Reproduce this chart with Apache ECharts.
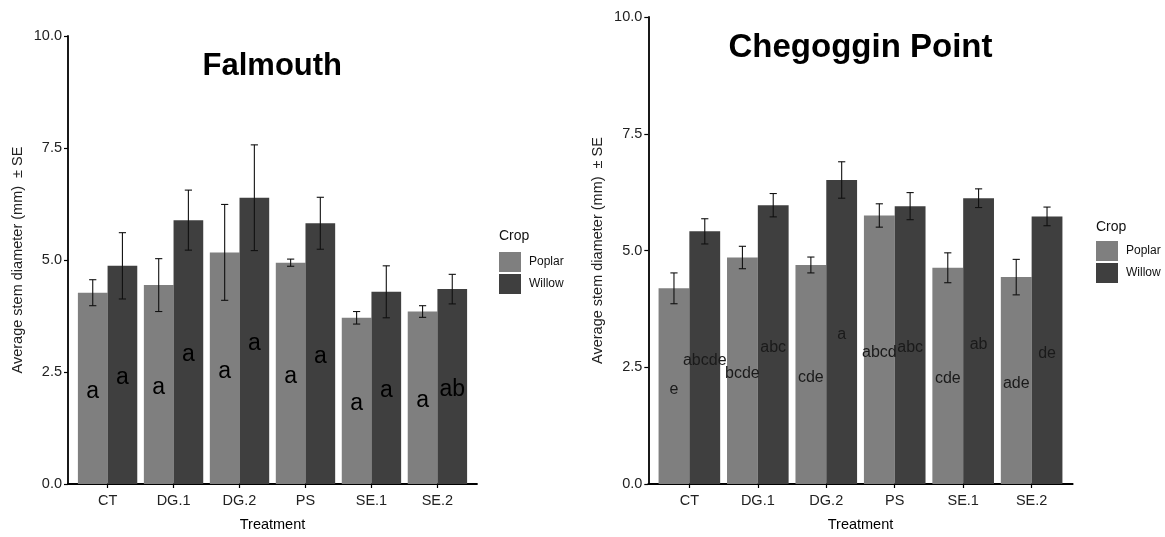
<!DOCTYPE html>
<html><head><meta charset="utf-8">
<script src="https://cdn.jsdelivr.net/npm/echarts@6/dist/echarts.min.js"></script>
<style>html,body{margin:0;padding:0;background:#fff}#c{width:1165px;height:537px}</style>
</head><body><div id="c"></div>
<script>
const treatments = ['CT','DG.1','DG.2','PS','SE.1','SE.2'];
const yTicks = [0, 2.5, 5, 7.5, 10];
const crops = ['Poplar','Willow'];

const falPoplar   = [4.27, 4.44, 5.17, 4.94, 3.71, 3.85];
const falPoplarSE = [0.29, 0.59, 1.07, 0.08, 0.14, 0.13];
const falWillow   = [4.87, 5.89, 6.39, 5.82, 4.29, 4.35];
const falWillowSE = [0.74, 0.67, 1.18, 0.58, 0.58, 0.33];
const falPoplarLetters = ['a','a','a','a','a','a'];
const falWillowLetters = ['a','a','a','a','a','ab'];

const chePoplar   = [4.19, 4.85, 4.69, 5.75, 4.63, 4.43];
const chePoplarSE = [0.33, 0.24, 0.17, 0.25, 0.32, 0.38];
const cheWillow   = [5.41, 5.97, 6.51, 5.95, 6.12, 5.73];
const cheWillowSE = [0.27, 0.25, 0.39, 0.29, 0.20, 0.20];
const chePoplarLetters = ['e','bcde','cde','abcd','cde','ade'];
const cheWillowLetters = ['abcde','abc','a','abc','ab','de'];

const FONT = '"Liberation Sans", Arial, sans-serif';
const COLORS = {Poplar:'#7f7f7f', Willow:'#3f3f3f'};
const DODGE = 0.9;
const idx = treatments.map((t,i)=>i);

function xAxisDef(gridIndex){
  return {
    type:'value', gridIndex, min:-0.6, max:treatments.length-1+0.6,
    name:'Treatment', nameLocation:'middle', nameGap:33,
    nameTextStyle:{color:'#000', fontSize:14.5, fontFamily:FONT},
    axisLine:{show:true, onZero:false, lineStyle:{color:'#000', width:1.8}},
    axisTick:{show:true, length:4, customValues:idx, lineStyle:{color:'#000', width:1.2}},
    axisLabel:{customValues:idx, margin:9, color:'#222', fontSize:14.5, fontFamily:FONT,
      formatter:v=>treatments[Math.round(v)]},
    splitLine:{show:false}
  };
}
function yAxisDef(gridIndex){
  return {
    type:'value', gridIndex, min:yTicks[0], max:yTicks[yTicks.length-1], interval:yTicks[1]-yTicks[0],
    name:'Average stem diameter (mm)  \u00b1 SE', nameLocation:'middle', nameGap:43,
    nameTextStyle:{color:'#222', fontSize:14.5, fontFamily:FONT},
    axisLine:{show:true, onZero:false, lineStyle:{color:'#000', width:1.8}},
    axisTick:{show:true, length:4, lineStyle:{color:'#000', width:1.2}},
    axisLabel:{margin:6, color:'#222', fontSize:14.5, fontFamily:FONT, formatter:v=>v.toFixed(1)},
    splitLine:{show:false}
  };
}
function barSeries(name, vals, letters, gi, fontSize, labelColor){
  return {
    type:'bar', name, xAxisIndex:gi, yAxisIndex:gi,
    data: vals.map((v,i)=>[i, v]),
    barGap:'0%', barCategoryGap:((1-DODGE)*100)+'%',
    itemStyle:{color:COLORS[name]},
    label:{show:true, position:'inside', offset:[0,3], fontSize, fontFamily:FONT, color:labelColor,
      formatter:p=>letters[p.dataIndex]},
    emphasis:{disabled:true}
  };
}
function errSeries(name, vals, se, gi, offset){
  return {
    type:'custom', name, xAxisIndex:gi, yAxisIndex:gi, z:5,
    data: vals.map((v,i)=>[i, v - se[i], v + se[i]]),
    encode:{x:0, y:[1,2]},
    renderItem:function(params, api){
      const x = api.value(0) + offset;
      const lo = api.coord([x, api.value(1)]);
      const hi = api.coord([x, api.value(2)]);
      const half = 3.6;
      const style = {stroke:'#111', lineWidth:1.1};
      return {type:'group', children:[
        {type:'line', shape:{x1:lo[0], y1:lo[1], x2:hi[0], y2:hi[1]}, style},
        {type:'line', shape:{x1:lo[0]-half, y1:lo[1], x2:lo[0]+half, y2:lo[1]}, style},
        {type:'line', shape:{x1:hi[0]-half, y1:hi[1], x2:hi[0]+half, y2:hi[1]}, style}
      ]};
    },
    silent:true, tooltip:{show:false}
  };
}
function legendDef(left, top){
  return {
    orient:'vertical', left, top, padding:0, itemGap:2, itemWidth:22, itemHeight:20,
    icon:'rect', data:crops, selectedMode:false,
    textStyle:{fontSize:12, fontFamily:FONT, color:'#111', padding:[0,0,0,3]}
  };
}
const off = DODGE/4;
const option = {
  animation:false,
  backgroundColor:'#fff',
  title:[
    {text:'Falmouth', left:272.3, top:51, textAlign:'center', padding:0,
     textStyle:{fontSize:31, fontWeight:'bold', color:'#000', fontFamily:FONT}},
    {text:'Chegoggin Point', left:860.5, top:31, textAlign:'center', padding:0,
     textStyle:{fontSize:33, fontWeight:'bold', color:'#000', fontFamily:FONT}},
    {text:'Crop', left:499, top:229, padding:0,
     textStyle:{fontSize:14, fontWeight:'normal', color:'#111', fontFamily:FONT}},
    {text:'Crop', left:1096, top:220, padding:0,
     textStyle:{fontSize:14, fontWeight:'normal', color:'#111', fontFamily:FONT}}
  ],
  legend:[legendDef(499, 252), legendDef(1096, 241)],
  grid:[
    {left:68, top:36, width:409, height:451.5},
    {left:648.3, top:17, width:424.4, height:469.5}
  ],
  xAxis:[xAxisDef(0), xAxisDef(1)],
  yAxis:[yAxisDef(0), yAxisDef(1)],
  series:[
    barSeries('Poplar', falPoplar, falPoplarLetters, 0, 23, '#000'),
    barSeries('Willow', falWillow, falWillowLetters, 0, 23, '#000'),
    errSeries('Poplar', falPoplar, falPoplarSE, 0, -off),
    errSeries('Willow', falWillow, falWillowSE, 0, off),
    barSeries('Poplar', chePoplar, chePoplarLetters, 1, 16, '#1a1a1a'),
    barSeries('Willow', cheWillow, cheWillowLetters, 1, 16, '#1a1a1a'),
    errSeries('Poplar', chePoplar, chePoplarSE, 1, -off),
    errSeries('Willow', cheWillow, cheWillowSE, 1, off)
  ]
};
const chart = echarts.init(document.getElementById('c'), null, {renderer:'canvas'});
chart.setOption(option);
</script>
</body></html>
